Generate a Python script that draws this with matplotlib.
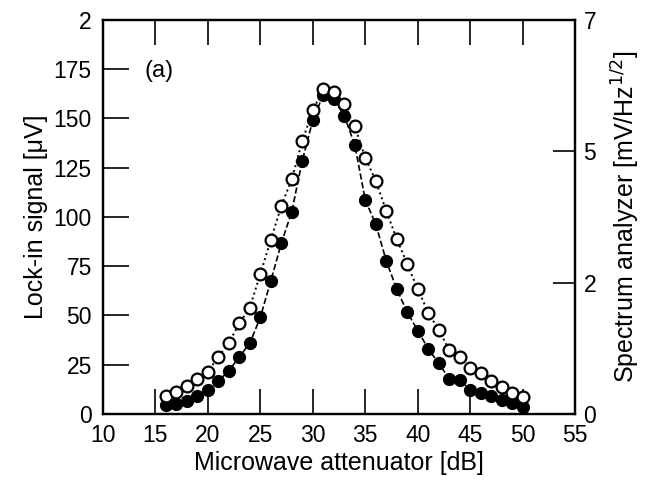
import numpy as np
import matplotlib
matplotlib.use("Agg")
import matplotlib.pyplot as plt

plt.rcParams['font.family'] = ['Liberation Sans', 'DejaVu Sans']

# attenuator settings [dB]
atten = np.arange(16, 51)

# open circles (dotted line)
open_sig = [9.3, 11, 14.2, 17.8, 21.5, 28.9, 36, 46, 54, 71,
            88.3, 105.6, 119, 138.6, 154, 165, 163.6, 157.4, 146, 130,
            118.3, 103, 88.8, 76, 63.4, 51.4, 42.6, 32.5, 29.1, 23.2,
            20.6, 16.8, 13.5, 10.8, 8.8]

# filled circles (dashed line)
fill_sig = [4.6, 5, 6.8, 9.3, 12, 16.8, 21.8, 29, 35.9, 49,
            67.5, 86.6, 102.7, 128.6, 149, 162, 160, 151.3, 136.5, 108.6,
            96.3, 77.7, 63.3, 51.6, 42.3, 33, 25.7, 17.8, 17.3, 12.2,
            10.8, 9.3, 7.1, 5.4, 3.7]

left_ticks = [0, 25, 50, 75, 100, 125, 150, 175, 200]
left_labels = ["0", "25", "50", "75", "100", "125", "150", "175", "2"]
right_ticks = [0, 7 / 3, 14 / 3, 7]
right_labels = ["0", "2", "5", "7"]
x_ticks = [10, 15, 20, 25, 30, 35, 40, 45, 50, 55]

fig = plt.figure(figsize=(6.47, 4.83), dpi=100)
ax = fig.add_axes([0.159, 0.143, 0.73, 0.816])

ax.plot(atten, fill_sig, "k--", lw=1.2, marker="o", ms=8.5,
        mfc="black", mec="black", zorder=2)
ax.plot(atten, open_sig, "k:", lw=1.4, marker="o", ms=8.5,
        mfc="white", mec="black", mew=1.6, zorder=3)

ax.set_xlim(10, 55)
ax.set_ylim(0, 200)
ax.set_xticks(x_ticks)
ax.set_yticks(left_ticks)
ax.set_yticklabels(left_labels)
ax.tick_params(axis="x", direction="in", length=18, width=1.2, top=True,
               labelsize=16.5, pad=7)
ax.tick_params(axis="y", direction="in", length=19, width=1.2,
               labelsize=16.5, pad=8)
ax.set_xlabel("Microwave attenuator [dB]", fontsize=18, labelpad=3)
ax.set_ylabel("Lock-in signal [\u03bcV]", fontsize=18, labelpad=4)

ax2 = ax.twinx()
ax2.set_ylim(0, 7)
ax2.set_yticks(right_ticks)
ax2.set_yticklabels(right_labels)
ax2.tick_params(axis="y", direction="in", length=16, width=1.2,
                labelsize=16.5, pad=6)
ax2.set_ylabel("Spectrum analyzer [mV/Hz$^{1/2}$]", fontsize=18, labelpad=10)

for a in (ax, ax2):
    for s in a.spines.values():
        s.set_linewidth(1.6)

ax.text(14, 171, "(a)", fontsize=17)

fig.savefig("out.png", dpi=100)
